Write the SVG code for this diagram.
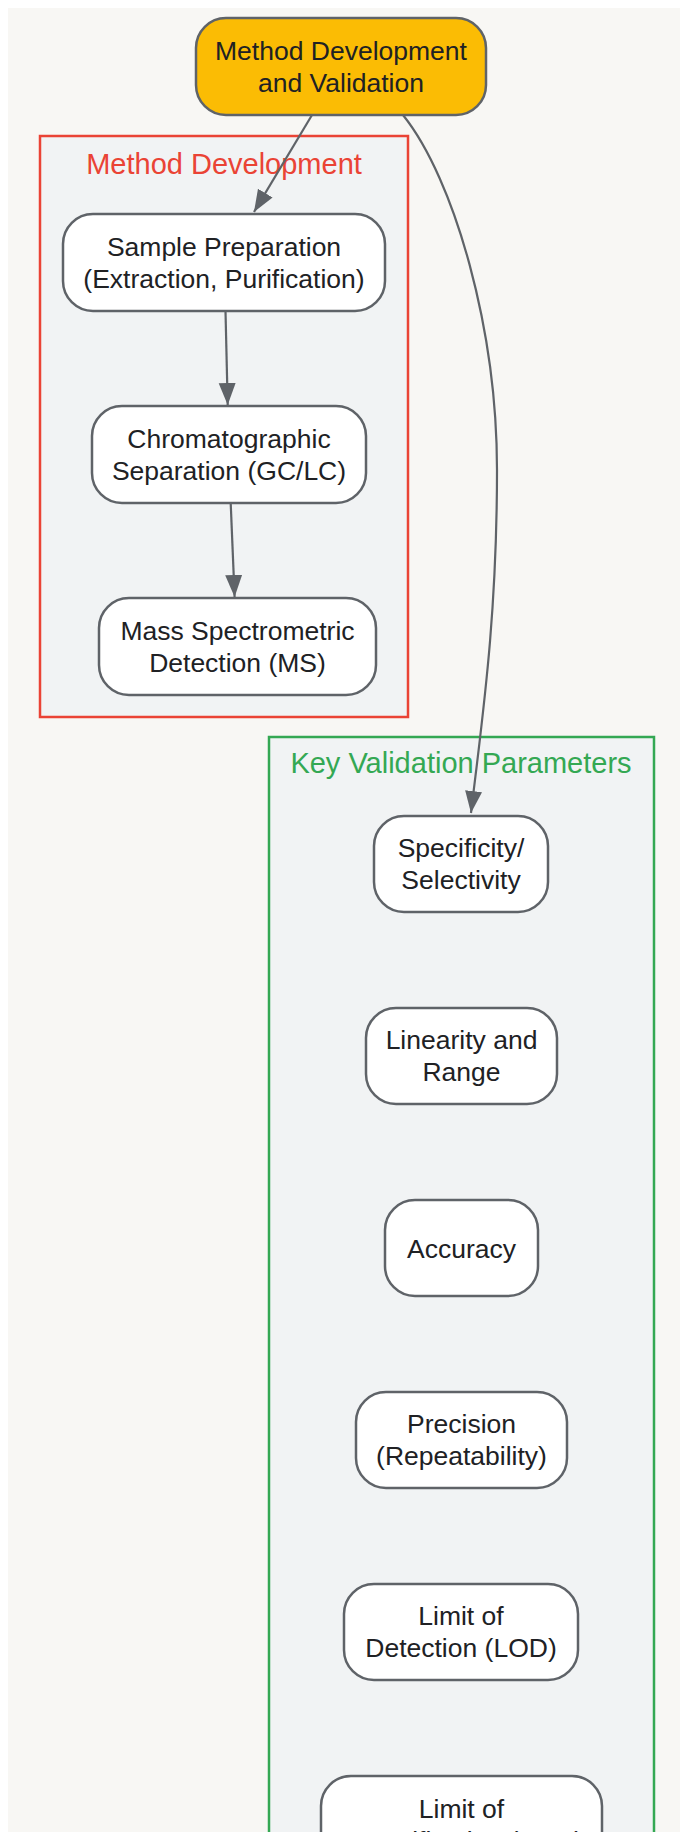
<svg xmlns="http://www.w3.org/2000/svg" width="680" height="1832" viewBox="0 0 680 1832">
<defs>
<style>
.node rect{fill:#ffffff;stroke:#5f6368;stroke-width:2.5}
.node text,.root text{font-family:"Liberation Sans",Arial,sans-serif;font-size:26.5px;fill:#202124;text-anchor:middle}
.root rect{fill:#fbbc04;stroke:#5f6368;stroke-width:2.5}
.cl{fill:#f1f3f4;stroke-width:2.5}
.cltitle{font-family:"Liberation Sans",Arial,sans-serif;font-size:29px;text-anchor:middle}
.edge{fill:none;stroke:#5f6368;stroke-width:2.2;marker-end:url(#arr)}
</style>
<marker id="arr" markerUnits="userSpaceOnUse" markerWidth="23" markerHeight="18" refX="22" refY="8.5" orient="auto">
<path d="M0,0 L22,8.5 L0,17 z" fill="#5f6368"/>
</marker>
</defs>
<rect x="8" y="8" width="672" height="1824" fill="#f8f7f4"/>
<g id="cluster-dev">
<rect class="cl" x="40" y="136" width="368" height="581" stroke="#ea4335"/>
<text class="cltitle" x="224" y="174" fill="#ea4335">Method Development</text>
</g>
<g id="cluster-val">
<rect class="cl" x="269" y="737" width="385" height="1200" stroke="#34a853"/>
<text class="cltitle" x="461" y="773" fill="#34a853">Key Validation Parameters</text>
</g>
<g id="n-root" class="root">
<rect x="196" y="18" width="290" height="97" rx="30"/>
<text x="341" y="60">Method Development</text>
<text x="341" y="92">and Validation</text>
</g>
<g id="n-sample" class="node">
<rect x="63" y="214" width="322" height="97" rx="30"/>
<text x="224" y="255.5">Sample Preparation</text>
<text x="224" y="287.5">(Extraction, Purification)</text>
</g>
<g id="n-chrom" class="node">
<rect x="92" y="406" width="274" height="97" rx="30"/>
<text x="229" y="447.5">Chromatographic</text>
<text x="229" y="479.5">Separation (GC/LC)</text>
</g>
<g id="n-ms" class="node">
<rect x="99" y="598" width="277" height="97" rx="30"/>
<text x="237.5" y="639.5">Mass Spectrometric</text>
<text x="237.5" y="671.5">Detection (MS)</text>
</g>
<g id="n-spec" class="node">
<rect x="374" y="816" width="174" height="96" rx="30"/>
<text x="461" y="857">Specificity/</text>
<text x="461" y="889">Selectivity</text>
</g>
<g id="n-lin" class="node">
<rect x="366" y="1008" width="191" height="96" rx="30"/>
<text x="461.5" y="1049">Linearity and</text>
<text x="461.5" y="1081">Range</text>
</g>
<g id="n-acc" class="node">
<rect x="385" y="1200" width="153" height="96" rx="30"/>
<text x="461.5" y="1257.5">Accuracy</text>
</g>
<g id="n-prec" class="node">
<rect x="356" y="1392" width="211" height="96" rx="30"/>
<text x="461.5" y="1433">Precision</text>
<text x="461.5" y="1465">(Repeatability)</text>
</g>
<g id="n-lod" class="node">
<rect x="344" y="1584" width="234" height="96" rx="30"/>
<text x="461" y="1625">Limit of</text>
<text x="461" y="1657">Detection (LOD)</text>
</g>
<g id="n-loq" class="node">
<rect x="321" y="1776" width="281" height="96" rx="30"/>
<text x="461.5" y="1817.5">Limit of</text>
<text x="461.5" y="1849.5">Quantification (LOQ)</text>
</g>
<g id="connectors">
<path class="edge" d="M312,115 L254,212"/>
<path class="edge" d="M225.5,311 L227.7,405"/>
<path class="edge" d="M230.7,503 L234.6,597"/>
<path class="edge" d="M403,115 C455,180 497,330 497,470 C497,620 482,720 471,813"/>
</g>
</svg>
